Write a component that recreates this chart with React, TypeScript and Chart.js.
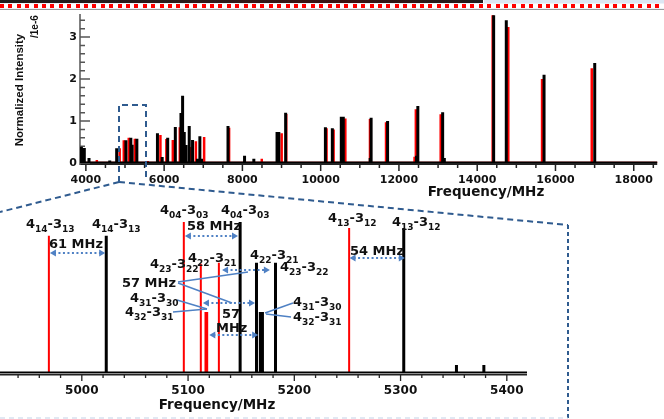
import React, { useEffect, useRef } from "react";
import { Chart, registerables } from "chart.js";
Chart.register(...registerables);

// ---- data (frequency in MHz, normalized intensity in 1e-6) ----
const blackFreq = [3886, 3960, 4080, 4610, 4787, 5023, 5149, 5164.4, 5168, 5170, 5182.3, 5303, 5352.6, 5378.4, 5829, 5950, 6091, 6286, 6430, 6472, 6514, 6557, 6641, 6726, 6853, 6913, 6955, 7632, 8055, 8292, 8885, 8930, 9105, 10121, 10298, 10527, 10578, 11265, 11289, 11695, 11720, 12450, 12483, 13117, 13160, 14420, 14743, 15708, 17003];
const blackInt = [0.39, 0.36, 0.12, 0.06, 0.35, 0.544, 0.599, 0.437, 0.242, 0.242, 0.437, 0.575, 0.032, 0.032, 0.71, 0.14, 0.6, 0.86, 1.19, 1.6, 0.74, 0.43, 0.88, 0.55, 0.1, 0.64, 0.1, 0.88, 0.17, 0.1, 0.74, 0.74, 1.2, 0.85, 0.83, 1.1, 1.1, 0.12, 1.08, 1.0, 0.1, 0.17, 1.36, 1.21, 0.12, 3.52, 3.4, 2.1, 2.38];
const redFreq = [4280, 4864, 4969, 5096, 5112, 5116.4, 5118, 5129, 5251.6, 5580, 5905, 6057, 6222, 6400, 6667, 6811, 7022, 7660, 8495, 9003, 9120, 10150, 10330, 10630, 11260, 11670, 12400, 12432, 13067, 14395, 14794, 15657, 16927];
const redInt = [0.07, 0.35, 0.544, 0.599, 0.433, 0.242, 0.242, 0.437, 0.575, 0.05, 0.67, 0.57, 0.55, 0.85, 0.38, 0.52, 0.62, 0.84, 0.1, 0.71, 1.17, 0.83, 0.8, 1.06, 1.05, 0.97, 0.15, 1.28, 1.16, 3.52, 3.24, 2.0, 2.26];

const overviewXTicks = [4000, 6000, 8000, 10000, 12000, 14000, 16000, 18000];
const overviewYTicks = [0, 1, 2, 3];
const zoomXTicks = [5000, 5100, 5200, 5300, 5400];

function sticks(freqs: number[], ints: number[], lo: number, hi: number) {
  const pts: { x: number; y: number }[] = [{ x: lo, y: 0 }];
  const idx = freqs.map((_, i) => i).sort((a, b) => freqs[a] - freqs[b]);
  for (const i of idx) {
    pts.push({ x: freqs[i], y: 0 }, { x: freqs[i], y: ints[i] }, { x: freqs[i], y: 0 });
  }
  pts.push({ x: hi, y: 0 });
  return pts;
}

const BOLD_DV = (s: number) => `bold ${s}px "DejaVu Sans"`;

function drawTrans(ctx: CanvasRenderingContext2D, x: number, y: number, up: string, upK: string, lo: string, loK: string) {
  ctx.textAlign = "left";
  ctx.textBaseline = "alphabetic";
  let cx = x;
  const seg = (t: string, f: string, dy: number) => {
    ctx.font = f;
    ctx.fillText(t, cx, y + dy);
    cx += ctx.measureText(t).width;
  };
  seg(up, BOLD_DV(13), 0);
  seg(upK, BOLD_DV(9), 4);
  seg("-" + lo, BOLD_DV(13), 0);
  seg(loK, BOLD_DV(9), 4);
}

function dottedArrow(ctx: CanvasRenderingContext2D, x1: number, x2: number, y: number) {
  ctx.save();
  ctx.strokeStyle = "#4f81c4";
  ctx.fillStyle = "#4f81c4";
  ctx.lineWidth = 2;
  ctx.setLineDash([2, 2.5]);
  ctx.beginPath();
  ctx.moveTo(x1 + 4, y);
  ctx.lineTo(x2 - 4, y);
  ctx.stroke();
  ctx.setLineDash([]);
  ctx.beginPath();
  ctx.moveTo(x1, y);
  ctx.lineTo(x1 + 6, y - 3.5);
  ctx.lineTo(x1 + 6, y + 3.5);
  ctx.closePath();
  ctx.fill();
  ctx.beginPath();
  ctx.moveTo(x2, y);
  ctx.lineTo(x2 - 6, y - 3.5);
  ctx.lineTo(x2 - 6, y + 3.5);
  ctx.closePath();
  ctx.fill();
  ctx.restore();
}

function seg(ctx: CanvasRenderingContext2D, pts: number[][]) {
  ctx.beginPath();
  ctx.moveTo(pts[0][0], pts[0][1]);
  for (let i = 1; i < pts.length; i++) ctx.lineTo(pts[i][0], pts[i][1]);
  ctx.stroke();
}

const topAxes = {
  id: "topAxes",
  beforeDatasetsDraw(chart: any) {
    const { ctx, chartArea: a, scales } = chart;
    const x = scales.x, y = scales.y;
    ctx.save();
    ctx.strokeStyle = "#222";
    ctx.lineWidth = 2;
    seg(ctx, [[a.left, a.bottom + 1], [a.right, a.bottom + 1]]);
    ctx.lineWidth = 1.5;
    ctx.beginPath();
    for (let v = 4000; v <= 18500; v += 500) {
      const px = x.getPixelForValue(v);
      ctx.moveTo(px, a.bottom + 1);
      ctx.lineTo(px, a.bottom + (v % 2000 === 0 ? 8 : 5));
    }
    ctx.stroke();
    ctx.strokeStyle = "#555";
    seg(ctx, [[a.left, a.top], [a.left, a.bottom + 2]]);
    ctx.beginPath();
    for (let i = 0; i <= 17; i++) {
      const v = i * 0.2;
      const py = y.getPixelForValue(v);
      const major = i % 5 === 0;
      ctx.moveTo(a.left, py);
      ctx.lineTo(a.left + (major ? 10 : 5), py);
    }
    ctx.stroke();
    ctx.restore();
  },
  afterDraw(chart: any) {
    const { ctx } = chart;
    ctx.save();
    ctx.fillStyle = "#111";
    ctx.font = BOLD_DV(13.5);
    ctx.textAlign = "center";
    ctx.textBaseline = "middle";
    ctx.fillText("Frequency/MHz", 486, 192);
    ctx.translate(20, 90);
    ctx.rotate(-Math.PI / 2);
    ctx.font = 'bold 11.5px "Liberation Sans"';
    ctx.fillText("Normalized Intensity", 0, 0);
    ctx.restore();
    ctx.save();
    ctx.fillStyle = "#111";
    ctx.translate(35, 38);
    ctx.rotate(-Math.PI / 2);
    ctx.font = 'bold 10px "Liberation Sans"';
    ctx.textAlign = "left";
    ctx.textBaseline = "middle";
    ctx.fillText("/1e-6", 0, 0);
    ctx.restore();
  },
};

const zoomAxes = {
  id: "zoomAxes",
  beforeDatasetsDraw(chart: any) {
    const { ctx, chartArea: a, scales } = chart;
    const x = scales.x;
    ctx.save();
    ctx.strokeStyle = "#222";
    ctx.lineWidth = 2;
    seg(ctx, [[a.left, a.bottom + 1.5], [a.right, a.bottom + 1.5]]);
    ctx.lineWidth = 1.3;
    ctx.beginPath();
    for (let v = 4940; v <= 5410; v += 20) {
      const px = x.getPixelForValue(v);
      ctx.moveTo(px, a.bottom + 1);
      ctx.lineTo(px, a.bottom + (v % 100 === 0 ? 8 : 5));
    }
    ctx.stroke();
    ctx.restore();
  },
  afterDraw(chart: any) {
    const { ctx } = chart;
    const x = chart.scales.x;
    ctx.save();
    // zoom connector (dashed)
    ctx.strokeStyle = "#2f5b8f";
    ctx.lineWidth = 2;
    ctx.setLineDash([6, 4]);
    seg(ctx, [[119, 182], [119, 105], [146, 105], [146, 180]]);
    seg(ctx, [[119, 182], [0, 212]]);
    seg(ctx, [[119, 182], [568, 225]]);
    ctx.setLineDash([4, 3]);
    seg(ctx, [[568, 225], [568, 419]]);
    ctx.strokeStyle = "#c3d1e6";
    ctx.lineWidth = 1;
    ctx.setLineDash([5, 4]);
    seg(ctx, [[0, 418], [568, 418]]);
    ctx.setLineDash([]);

    // x title
    ctx.fillStyle = "#111";
    ctx.font = BOLD_DV(13.5);
    ctx.textAlign = "center";
    ctx.textBaseline = "middle";
    ctx.fillText("Frequency/MHz", 217, 405);

    // solid connector lines
    ctx.strokeStyle = "#4f81c4";
    ctx.lineWidth = 1.5;
    seg(ctx, [[178, 282], [248, 272]]);
    seg(ctx, [[178, 283], [232, 303]]);
    seg(ctx, [[177, 300], [207, 309]]);
    seg(ctx, [[173, 312], [207, 309]]);
    seg(ctx, [[293, 303], [265, 313]]);
    seg(ctx, [[291, 317], [266, 314]]);

    // dotted arrows, anchored to frequencies
    const p = (f: number) => x.getPixelForValue(f);
    dottedArrow(ctx, p(4970), p(5022), 253);
    dottedArrow(ctx, p(5097), p(5147), 236);
    dottedArrow(ctx, p(5132), p(5177), 270);
    dottedArrow(ctx, p(5114), p(5163), 303);
    dottedArrow(ctx, p(5120), p(5166), 335);
    dottedArrow(ctx, p(5252), p(5304), 258);

    // labels
    ctx.fillStyle = "#111";
    drawTrans(ctx, 26, 228, "4", "14", "3", "13");
    drawTrans(ctx, 92, 228, "4", "14", "3", "13");
    drawTrans(ctx, 160, 214, "4", "04", "3", "03");
    drawTrans(ctx, 221, 214, "4", "04", "3", "03");
    drawTrans(ctx, 188, 262, "4", "22", "3", "21");
    drawTrans(ctx, 150, 268, "4", "23", "3", "22");
    drawTrans(ctx, 130, 302, "4", "31", "3", "30");
    drawTrans(ctx, 125, 316, "4", "32", "3", "31");
    drawTrans(ctx, 250, 259, "4", "22", "3", "21");
    drawTrans(ctx, 280, 271, "4", "23", "3", "22");
    drawTrans(ctx, 293, 306, "4", "31", "3", "30");
    drawTrans(ctx, 293, 321, "4", "32", "3", "31");
    drawTrans(ctx, 328, 222, "4", "13", "3", "12");
    drawTrans(ctx, 392, 226, "4", "13", "3", "12");
    ctx.font = BOLD_DV(13);
    ctx.textAlign = "left";
    ctx.textBaseline = "alphabetic";
    ctx.fillText("61 MHz", 49, 248);
    ctx.fillText("58 MHz", 187, 230);
    ctx.fillText("57 MHz", 122, 287);
    ctx.fillText("57", 222, 318);
    ctx.fillText("MHz", 216, 332);
    ctx.fillText("54 MHz", 350, 255);
    ctx.restore();
  },
};

const lineStyle = { pointRadius: 0, tension: 0, borderJoinStyle: "bevel" as const, fill: false };

export default function App() {
  const topRef = useRef<HTMLCanvasElement>(null);
  const zoomRef = useRef<HTMLCanvasElement>(null);

  useEffect(() => {
    const tickFont = (s: number) => ({ family: "DejaVu Sans", weight: "bold" as const, size: s });
    const top = new Chart(topRef.current!, {
      type: "line",
      data: {
        datasets: [
          { label: "black", data: sticks(blackFreq, blackInt, 3700, 18800), borderColor: "#000", borderWidth: 3, ...lineStyle },
          { label: "red", data: sticks(redFreq, redInt, 3700, 18800), borderColor: "#ff0000", borderWidth: 2.5, ...lineStyle },
        ],
      },
      options: {
        responsive: false,
        animation: false,
        events: [],
        layout: { padding: { left: 0, top: 14, right: 3, bottom: 219 } },
        plugins: { legend: { display: false }, tooltip: { enabled: false } },
        scales: {
          x: {
            type: "linear",
            min: 3850,
            max: 18600,
            grid: { display: false, drawTicks: false },
            border: { display: false },
            afterBuildTicks: (s: any) => { s.ticks = overviewXTicks.map((v) => ({ value: v })); },
            afterFit: (s: any) => { s.height = 37; },
            ticks: { padding: 11, autoSkip: false, maxRotation: 0, color: "#111", font: tickFont(11), callback: (v: any) => String(v) },
          },
          y: {
            min: 0,
            max: 3.55,
            grid: { display: false, drawTicks: false },
            border: { display: false },
            afterBuildTicks: (s: any) => { s.ticks = overviewYTicks.map((v) => ({ value: v })); },
            afterFit: (s: any) => { s.width = 80; },
            ticks: { padding: 3, color: "#111", font: tickFont(11), callback: (v: any) => String(v) },
          },
        },
      },
      plugins: [topAxes],
    });

    const zoom = new Chart(zoomRef.current!, {
      type: "line",
      data: {
        datasets: [
          { label: "black", data: sticks(blackFreq, blackInt, 3700, 18800), borderColor: "#000", borderWidth: 3, ...lineStyle },
          { label: "red", data: sticks(redFreq, redInt, 3700, 18800), borderColor: "#ff0000", borderWidth: 2, ...lineStyle },
        ],
      },
      options: {
        responsive: false,
        animation: false,
        events: [],
        layout: { padding: { left: 0, top: 200, right: 137, bottom: 16 } },
        plugins: { legend: { display: false }, tooltip: { enabled: false } },
        scales: {
          x: {
            type: "linear",
            min: 4923,
            max: 5419,
            grid: { display: false, drawTicks: false },
            border: { display: false },
            afterBuildTicks: (s: any) => { s.ticks = zoomXTicks.map((v) => ({ value: v })); },
            afterFit: (s: any) => { s.height = 30; },
            ticks: { padding: 11, autoSkip: false, maxRotation: 0, color: "#111", font: tickFont(12), callback: (v: any) => String(v) },
          },
          y: { display: false, min: 0, max: 0.686 },
        },
      },
      plugins: [zoomAxes],
    });

    return () => {
      top.destroy();
      zoom.destroy();
    };
  }, []);

  const abs = (s: React.CSSProperties): React.CSSProperties => ({ position: "absolute", ...s });
  return (
    <div style={{ position: "fixed", left: 0, top: 0, width: 664, height: 419, background: "#fff", overflow: "hidden" }}>
      <div style={abs({ left: 0, top: 0, width: 483, height: 3, background: "linear-gradient(90deg,#1d1d1d,#2b1c1c 40%,#3a1212 70%,#1d1d1d)" })} />
      <div style={abs({ left: 484, top: 0, width: 180, height: 3, background: "#dce7f3" })} />
      <div style={abs({ left: 0, top: 3, width: 664, height: 6, background: "#eef2f8" })} />
      <div style={abs({ left: 0, top: 4, width: 664, height: 4, background: "repeating-linear-gradient(90deg,#ff0000 0px,#ff0000 4px,#ffffff 4px,#ffffff 8.4px)" })} />
      <div style={abs({ left: 0, top: 9, width: 664, height: 1, background: "#999" })} />
      <canvas ref={topRef} width={664} height={419} style={abs({ left: 0, top: 0 })} />
      <canvas ref={zoomRef} width={664} height={419} style={abs({ left: 0, top: 0 })} />
    </div>
  );
}
